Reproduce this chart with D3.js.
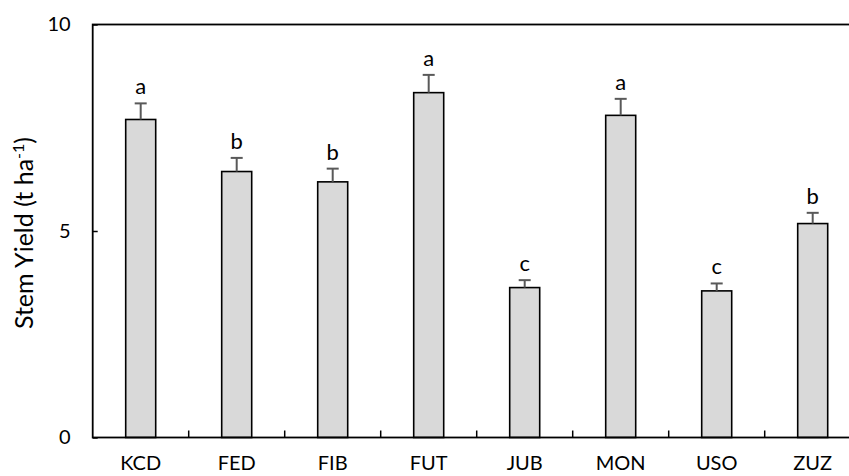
<!DOCTYPE html>
<html>
<head>
<meta charset="utf-8">
<script src="https://cdn.jsdelivr.net/npm/d3@7"></script>
<style>
  body { margin: 0; background: #fff; }
  text { font-family: Lato, "Open Sans", sans-serif; fill: #000; }
</style>
</head>
<body>
<div id="chart"></div>
<script>
// datos
const cultivares = ['KCD', 'FED', 'FIB', 'FUT', 'JUB', 'MON', 'USO', 'ZUZ'];
const rendimiento = [7.70, 6.44, 6.19, 8.35, 3.63, 7.80, 3.55, 5.18];
const errorEst = [0.39, 0.33, 0.32, 0.43, 0.18, 0.40, 0.18, 0.26];
const letras = ['a', 'b', 'b', 'a', 'c', 'a', 'c', 'b'];
const yTicks = [0, 5, 10];

const data = cultivares.map((c, i) => ({ c, v: rendimiento[i], e: errorEst[i], l: letras[i] }));

const svgWidth = 849;
const svgHeight = 476;
const plotLeft = 92.7, plotRight = 860.7, plotTop = 24.5, plotBottom = 437.5;

const svg = d3.select('#chart')
  .append('svg')
  .attr('width', svgWidth)
  .attr('height', svgHeight);

const xScale = d3.scaleBand()
  .domain(cultivares)
  .range([plotLeft, plotRight])
  .paddingInner(0.6875)
  .paddingOuter(0.34375);

const yScale = d3.scaleLinear()
  .domain([0, 10])
  .range([plotBottom, plotTop]);

const step = xScale.step();
const bw = xScale.bandwidth();

// barras
svg.selectAll('.bar')
  .data(data)
  .enter().append('rect')
  .attr('class', 'bar')
  .attr('x', d => xScale(d.c))
  .attr('y', d => yScale(d.v))
  .attr('width', bw)
  .attr('height', d => yScale(0) - yScale(d.v))
  .attr('fill', '#d9d9d9')
  .attr('stroke', '#000')
  .attr('stroke-width', 1.6);

// barras de error
const eb = svg.selectAll('.err')
  .data(data)
  .enter().append('g')
  .attr('class', 'err')
  .attr('stroke', '#595959')
  .attr('stroke-width', 2);

eb.append('line')
  .attr('x1', d => xScale(d.c) + bw / 2)
  .attr('x2', d => xScale(d.c) + bw / 2)
  .attr('y1', d => yScale(d.v))
  .attr('y2', d => yScale(d.v + d.e));

eb.append('line')
  .attr('x1', d => xScale(d.c) + bw / 2 - 6)
  .attr('x2', d => xScale(d.c) + bw / 2 + 6)
  .attr('y1', d => yScale(d.v + d.e))
  .attr('y2', d => yScale(d.v + d.e));

// letras de significancia
svg.selectAll('.letra')
  .data(data)
  .enter().append('text')
  .attr('class', 'letra')
  .attr('x', d => xScale(d.c) + bw / 2)
  .attr('y', d => yScale(d.v + d.e) - 9)
  .attr('text-anchor', 'middle')
  .style('font-size', '22px')
  .text(d => d.l);

// marco del grafico
svg.append('rect')
  .attr('x', plotLeft)
  .attr('y', plotTop)
  .attr('width', plotRight - plotLeft)
  .attr('height', plotBottom - plotTop)
  .attr('fill', 'none')
  .attr('stroke', '#000')
  .attr('stroke-width', 1.8);

// eje Y
const yAxis = svg.append('g')
  .attr('transform', `translate(${plotLeft},0)`)
  .call(d3.axisRight(yScale).tickValues(yTicks).tickSize(5).tickFormat(d3.format('d')));
yAxis.select('.domain').remove();
yAxis.selectAll('line').attr('stroke', '#000').attr('stroke-width', 1.5);
yAxis.selectAll('text')
  .attr('x', -22)
  .attr('text-anchor', 'end')
  .style('font-size', '20px')
  .style('font-family', 'Lato, sans-serif');

// ticks del eje X entre categorias
svg.selectAll('.xtick')
  .data(cultivares.slice(1))
  .enter().append('line')
  .attr('class', 'xtick')
  .attr('x1', d => xScale(d) - (step - bw) / 2)
  .attr('x2', d => xScale(d) - (step - bw) / 2)
  .attr('y1', plotBottom)
  .attr('y2', plotBottom - 7)
  .attr('stroke', '#000')
  .attr('stroke-width', 1.5);

// etiquetas del eje X
svg.selectAll('.xlab')
  .data(cultivares)
  .enter().append('text')
  .attr('class', 'xlab')
  .attr('x', d => xScale(d) + bw / 2)
  .attr('y', 470)
  .attr('text-anchor', 'middle')
  .style('font-size', '20px')
  .text(d => d);

// Etiqueta para el eje Y
const yl = svg.append('text')
  .attr('transform', 'rotate(-90)')
  .attr('x', -233)
  .attr('y', 33)
  .attr('text-anchor', 'middle')
  .style('font-size', '25px');
yl.append('tspan').text('Stem Yield (t ha');
yl.append('tspan').attr('dy', -9).style('font-size', '16px').text('-1');
yl.append('tspan').attr('dy', 9).text(')');
</script>
</body>
</html>
